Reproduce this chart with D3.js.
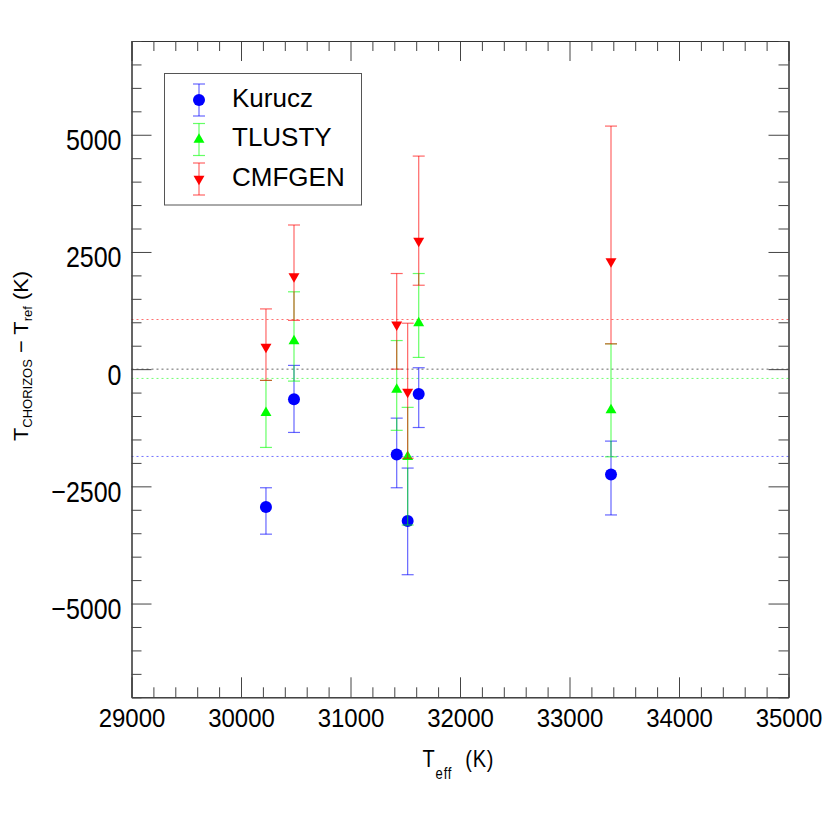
<!DOCTYPE html>
<html>
<head>
<meta charset="utf-8">
<script src="https://cdn.jsdelivr.net/npm/d3@7"></script>
<style>
  body { margin: 0; background: #fff; }
  svg { display: block; font-family: "Liberation Sans", Arial, Helvetica, sans-serif; }
</style>
</head>
<body>
<div id="vis-container"></div>
<script>
// plot dimensions
const width = 830;
const height = 830;
const margin = { left: 131.5, right: 41.5, top: 41, bottom: 132.7 };

// data
const teff = [30228, 30484, 31422, 31522, 31623, 33379];

const kuruczY  = [-2940, -640, -1820, -3240, -530, -2245];
const kuruczLo = [-3520, -1350, -2530, -4385, -1245, -3110];
const kuruczHi = [-2530, 80, -1045, -2110, 30, -1535];

const tlustyY  = [-930, 600, -435, -1870, 985, -875];
const tlustyLo = [-1670, -255, -1305, -3325, 250, -1870];
const tlustyHi = [-240, 1650, 610, -815, 2040, 540];

const cmfgenY  = [475, 1980, 950, -485, 2735, 2300];
const cmfgenLo = [-240, 1040, 0, -1900, 1790, 540];
const cmfgenHi = [1285, 3075, 2040, 980, 4545, 5185];

// horizontal reference (mean) lines
const refNames  = ["zero", "CMFGEN", "TLUSTY", "Kurucz"];
const refValues = [0, 1059, -198, -1862];
const refColors = ["#666666", "#ff7070", "#70ff70", "#7070ff"];

const seriesNames = ["Kurucz", "TLUSTY", "CMFGEN"];

const xMajor = d3.range(29000, 35001, 1000);
const xMinor = d3.range(29000, 35001, 200).filter(v => v % 1000 !== 0);
const yMajor = [-5000, -2500, 0, 2500, 5000];
const yMinor = d3.range(-7000, 7001, 500).filter(v => v % 2500 !== 0);

const svg = d3.select("#vis-container")
  .append("svg")
  .attr("width", width)
  .attr("height", height);

const xScale = d3.scaleLinear()
  .domain([29000, 35000])
  .range([margin.left, width - margin.right]);

const yScale = d3.scaleLinear()
  .domain([-7000, 7000])
  .range([height - margin.bottom, margin.top]);

const x0 = xScale.range()[0], x1 = xScale.range()[1];
const y0 = yScale.range()[0], y1 = yScale.range()[1];
const tickColor = "#444";

// reference dotted lines
svg.append("g")
  .selectAll("line")
  .data(refValues)
  .join("line")
  .attr("x1", x0)
  .attr("x2", x1)
  .attr("y1", d => yScale(d))
  .attr("y2", d => yScale(d))
  .attr("stroke", (d, i) => refColors[i])
  .attr("stroke-width", 1)
  .attr("stroke-dasharray", "2,3");

// axes: major + minor ticks on all four sides, pointing inward
function styleAxis(g) {
  g.selectAll(".domain").attr("stroke", "#333");
  g.selectAll(".tick line").attr("stroke", tickColor);
}

// bottom
svg.append("g")
  .attr("transform", `translate(0,${y0})`)
  .call(d3.axisBottom(xScale).tickValues(xMajor).tickSize(-20).tickSizeOuter(0)
    .tickPadding(11).tickFormat(d3.format("d")))
  .call(styleAxis)
  .call(g => g.selectAll("text").attr("font-size", "24px").attr("fill", "#000")
    .attr("font-family", "Liberation Sans, Arial, sans-serif")
    .attr("transform", "scale(1,1.05)"));
svg.append("g")
  .attr("transform", `translate(0,${y0})`)
  .call(d3.axisBottom(xScale).tickValues(xMinor).tickSize(-10).tickSizeOuter(0).tickFormat(() => ""))
  .call(styleAxis);

// top
svg.append("g")
  .attr("transform", `translate(0,${y1})`)
  .call(d3.axisTop(xScale).tickValues(xMajor).tickSize(-20).tickSizeOuter(0).tickFormat(() => ""))
  .call(styleAxis);
svg.append("g")
  .attr("transform", `translate(0,${y1})`)
  .call(d3.axisTop(xScale).tickValues(xMinor).tickSize(-10).tickSizeOuter(0).tickFormat(() => ""))
  .call(styleAxis);

// left
svg.append("g")
  .attr("transform", `translate(${x0},0)`)
  .call(d3.axisLeft(yScale).tickValues(yMajor).tickSize(-20).tickSizeOuter(0)
    .tickPadding(10).tickFormat(d3.format("d")))
  .call(styleAxis)
  .call(g => g.selectAll("text").attr("font-size", "25px").attr("fill", "#000")
    .attr("font-family", "Liberation Sans, Arial, sans-serif")
    .attr("dy", "0.5em")
    .attr("transform", "scale(1,1.2)"));
svg.append("g")
  .attr("transform", `translate(${x0},0)`)
  .call(d3.axisLeft(yScale).tickValues(yMinor).tickSize(-10).tickSizeOuter(0).tickFormat(() => ""))
  .call(styleAxis);

// right
svg.append("g")
  .attr("transform", `translate(${x1},0)`)
  .call(d3.axisRight(yScale).tickValues(yMajor).tickSize(-20).tickSizeOuter(0).tickFormat(() => ""))
  .call(styleAxis);
svg.append("g")
  .attr("transform", `translate(${x1},0)`)
  .call(d3.axisRight(yScale).tickValues(yMinor).tickSize(-10).tickSizeOuter(0).tickFormat(() => ""))
  .call(styleAxis);

// error bars + markers
const series = [
  { name: "Kurucz", y: kuruczY, lo: kuruczLo, hi: kuruczHi, color: "#0000ff", bar: "#0000ff", shape: "circle" },
  { name: "TLUSTY", y: tlustyY, lo: tlustyLo, hi: tlustyHi, color: "#00ff00", bar: "#00ff00", shape: "up" },
  { name: "CMFGEN", y: cmfgenY, lo: cmfgenLo, hi: cmfgenHi, color: "#ff0000", bar: "#ff0000", shape: "down" }
];
const capHalf = 6;
const triangle = d3.symbol(d3.symbolTriangle, 52);

function drawMarker(g, s, cx, cy) {
  if (s.shape === "circle") {
    g.append("circle").attr("cx", cx).attr("cy", cy).attr("r", 6).attr("fill", s.color);
  } else {
    g.append("path")
      .attr("d", triangle())
      .attr("transform", `translate(${cx},${cy})` + (s.shape === "down" ? " rotate(180)" : ""))
      .attr("fill", s.color);
  }
}

series.forEach(s => {
  const g = svg.append("g").attr("class", "series-" + s.name);
  const idx = d3.range(teff.length);
  const bars = g.append("g")
    .attr("stroke", s.bar)
    .attr("stroke-opacity", 0.6)
    .attr("stroke-width", 1.2);
  bars.selectAll(".vbar").data(idx).join("line")
    .attr("class", "vbar")
    .attr("x1", i => xScale(teff[i])).attr("x2", i => xScale(teff[i]))
    .attr("y1", i => yScale(s.lo[i])).attr("y2", i => yScale(s.hi[i]));
  bars.selectAll(".capLo").data(idx).join("line")
    .attr("class", "capLo")
    .attr("x1", i => xScale(teff[i]) - capHalf).attr("x2", i => xScale(teff[i]) + capHalf)
    .attr("y1", i => yScale(s.lo[i])).attr("y2", i => yScale(s.lo[i]));
  bars.selectAll(".capHi").data(idx).join("line")
    .attr("class", "capHi")
    .attr("x1", i => xScale(teff[i]) - capHalf).attr("x2", i => xScale(teff[i]) + capHalf)
    .attr("y1", i => yScale(s.hi[i])).attr("y2", i => yScale(s.hi[i]));
  idx.forEach(i => drawMarker(g, s, xScale(teff[i]), yScale(s.y[i])));
});

// legend
const legend = svg.append("g");
legend.append("rect")
  .attr("x", 164.5).attr("y", 73.5)
  .attr("width", 197).attr("height", 131.5)
  .attr("fill", "#fff").attr("stroke", "#555").attr("stroke-width", 1);
const legendY = [100, 139.5, 179];
series.forEach((s, i) => {
  const cx = 199, cy = legendY[i];
  const lg = legend.append("g");
  const b = lg.append("g").attr("stroke", s.bar).attr("stroke-opacity", 0.6).attr("stroke-width", 1.2);
  b.append("line").attr("x1", cx).attr("x2", cx).attr("y1", cy - 16).attr("y2", cy + 16);
  b.append("line").attr("x1", cx - capHalf).attr("x2", cx + capHalf).attr("y1", cy - 16).attr("y2", cy - 16);
  b.append("line").attr("x1", cx - capHalf).attr("x2", cx + capHalf).attr("y1", cy + 16).attr("y2", cy + 16);
  drawMarker(lg, s, cx, cy);
  lg.append("text")
    .attr("x", 232).attr("y", cy + 6.5)
    .attr("font-size", "26px")
    .attr("fill", "#000")
    .text(seriesNames[i]);
});

// x-axis title: T_eff (K)
svg.append("text")
  .attr("transform", "translate(422.5,766.7) scale(1,1.2)")
  .attr("font-size", "20px")
  .attr("fill", "#000")
  .attr("textLength", 71)
  .attr("lengthAdjust", "spacing")
  .call(t => {
    t.append("tspan").text("T");
    t.append("tspan").attr("font-size", "13px").attr("dy", 10.3).text("eff");
    t.append("tspan").attr("dy", -10.3).text(" \u00a0(K)");
  });

// y-axis title: T_CHORIZOS − T_ref (K)
svg.append("text")
  .attr("transform", "translate(27.5,441) rotate(-90)")
  .attr("font-size", "21px")
  .attr("fill", "#000")
  .attr("textLength", 170)
  .attr("lengthAdjust", "spacingAndGlyphs")
  .call(t => {
    t.append("tspan").text("T");
    t.append("tspan").attr("font-size", "12.5px").attr("dy", 4.5).text("CHORIZOS");
    t.append("tspan").attr("dy", -4.5).text(" \u2212 T");
    t.append("tspan").attr("font-size", "12.5px").attr("dy", 4.5).text("ref");
    t.append("tspan").attr("dy", -4.5).text(" (K)");
  });
</script>
</body>
</html>
